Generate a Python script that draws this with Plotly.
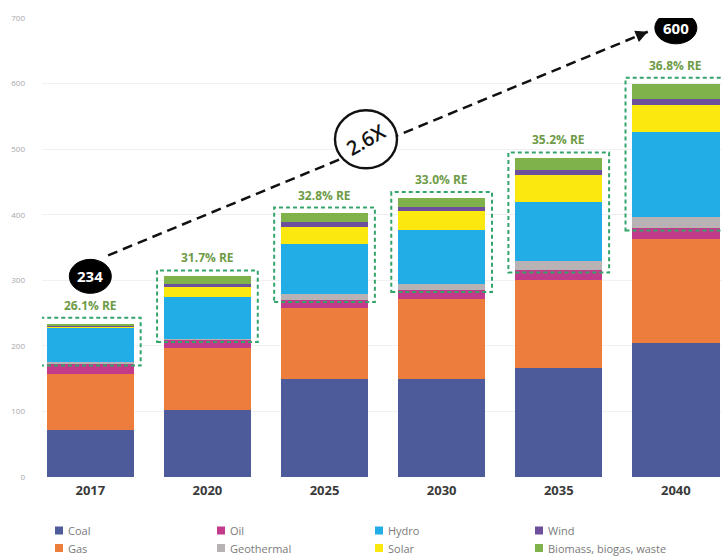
import plotly.graph_objects as go

# Installed capacity by source (GW), 2017 actual and projections
years = ["2017", "2020", "2025", "2030", "2035", "2040"]
coal = [72, 102, 150, 150, 166, 205]
gas = [85, 94, 108, 122, 135, 158]
oil = [16, 13, 12, 13, 14, 16]
geothermal = [3, 2, 9, 10, 14, 17]
hydro = [52, 64, 76, 81.5, 90, 130]
solar = [1.5, 15, 27, 29, 42, 41]
wind = [0.5, 5, 7, 7, 7, 10]
biomass = [4, 11, 13, 13, 18, 23]

series_names = ["Coal", "Gas", "Oil", "Geothermal", "Hydro", "Solar", "Wind",
                "Biomass, biogas, waste"]
series_values = [coal, gas, oil, geothermal, hydro, solar, wind, biomass]
series_colors = ["#4d5b9b", "#ed7d3d", "#c23b8a", "#b8b2b4", "#22ade6",
                 "#fbe80f", "#6d4f9b", "#7fb24b"]
renewables = ["Geothermal", "Hydro", "Solar", "Wind", "Biomass, biogas, waste"]

W, H = 727, 557
ML, MR, MT, MB = 42, 5, 18, 80
PW, PH = W - ML - MR, H - MT - MB

def px_x(px):
    return (px - ML) / PW

def px_y(py):
    return (H - MB - py) / PH

fig = go.Figure()
for name, vals, col in zip(series_names, series_values, series_colors):
    fig.add_trace(go.Bar(x=years, y=vals, name=name, marker_color=col,
                         marker_line_width=0, showlegend=False))

n = len(years)
totals = [sum(v[i] for v in series_values) for i in range(n)]
re_sum = [sum(v[i] for nm, v in zip(series_names, series_values) if nm in renewables)
          for i in range(n)]
base = [totals[i] - re_sum[i] for i in range(n)]

shapes = []
annotations = []

# dashed boxes around the renewable share + share labels
for i in range(n):
    shapes.append(dict(type="rect", xref="x", yref="y",
                       x0=i - 0.43, x1=i + 0.43, y0=base[i] - 3, y1=totals[i] + 9,
                       line=dict(color="#34a56a", width=2, dash="4px,3px"),
                       fillcolor="rgba(0,0,0,0)", layer="above"))
    share = re_sum[i] / totals[i] * 100
    annotations.append(dict(x=i, y=totals[i] + 9, xref="x", yref="y",
                            text=f"<b>{share:.1f}% RE</b>", showarrow=False,
                            yanchor="bottom", yshift=2,
                            font=dict(family="Open Sans", size=12, color="#6e9b48")))

# growth arrow from first to last total
x_start, y_start = 0.152, 338
x_end, y_end = 4.76, 679
shapes.append(dict(type="line", xref="x", yref="y", x0=x_start, y0=y_start,
                   x1=x_end, y1=y_end,
                   line=dict(color="#111111", width=2.5, dash="10px,6px"),
                   layer="above"))
annotations.append(dict(x=x_end, y=y_end, xref="x", yref="y", text="",
                        showarrow=True, ax=-9.2, ay=3.8, axref="pixel", ayref="pixel",
                        arrowhead=2, arrowsize=1.1, arrowwidth=2.2,
                        arrowcolor="#111111"))

# total bubbles
bubbles = [(0, totals[0] + 72, 42, 34), (n - 1, totals[-1] + 85, 42, 32)]
for (bx, by, bw, bh), val in zip(bubbles, [totals[0], totals[-1]]):
    shapes.append(dict(type="circle", xref="x", yref="y",
                       xsizemode="pixel", ysizemode="pixel",
                       xanchor=bx, yanchor=by,
                       x0=-bw / 2, x1=bw / 2, y0=-bh / 2, y1=bh / 2,
                       fillcolor="#000000", line=dict(color="#000000", width=1),
                       layer="above"))
    annotations.append(dict(x=bx, y=by, xref="x", yref="y",
                            text=f"<b>{val:.0f}</b>", showarrow=False,
                            font=dict(family="Open Sans", size=15, color="#ffffff")))

# growth multiple
ratio = totals[-1] / totals[0]
cx, cy = 2.354, 515
shapes.append(dict(type="circle", xref="x", yref="y",
                   xsizemode="pixel", ysizemode="pixel",
                   xanchor=cx, yanchor=cy, x0=-31, x1=31, y0=-29, y1=29,
                   fillcolor="#ffffff", line=dict(color="#111111", width=2.4),
                   layer="above"))
annotations.append(dict(x=cx, y=cy, xref="x", yref="y",
                        text=f"{ratio:.1f}X", showarrow=False, textangle=-30,
                        font=dict(family="Open Sans", size=20, color="#111111",
                                  weight=600)))

# legend laid out in two rows of four columns
legend_cols = [59, 221, 379, 539]
legend_rows = [530.5, 548]
for k, (name, col) in enumerate(zip(series_names, series_colors)):
    cxp = legend_cols[k // 2]
    cyp = legend_rows[k % 2]
    shapes.append(dict(type="rect", xref="paper", yref="paper",
                       xsizemode="pixel", ysizemode="pixel",
                       xanchor=px_x(cxp), yanchor=px_y(cyp),
                       x0=-4, x1=4, y0=-4, y1=4,
                       fillcolor=col, line=dict(width=0)))
    annotations.append(dict(x=px_x(cxp + 7), y=px_y(cyp), xref="paper", yref="paper",
                            text=name, showarrow=False, xanchor="left",
                            yanchor="middle",
                            font=dict(family="Open Sans", size=11, color="#7a7a7a")))

fig.update_layout(
    width=W, height=H,
    margin=dict(l=ML, r=MR, t=MT, b=MB),
    barmode="stack", bargap=0.253,
    paper_bgcolor="#ffffff", plot_bgcolor="#ffffff",
    font=dict(family="Open Sans"),
    shapes=shapes, annotations=annotations,
    xaxis=dict(range=[-0.4125, 5.394], showgrid=False, zeroline=False,
               showline=False, ticks="", ticklabelstandoff=4,
               tickfont=dict(family="Open Sans", size=13, color="#3a3a3a",
                             weight="bold")),
    yaxis=dict(range=[0, 700], dtick=100, showgrid=True, gridcolor="#f1f1f1",
               gridwidth=1, zeroline=False, showline=False, ticks="",
               ticklabelstandoff=16,
               tickfont=dict(family="Open Sans", size=8, color="#a8a8a8")),
)

fig.write_html("out.html")
